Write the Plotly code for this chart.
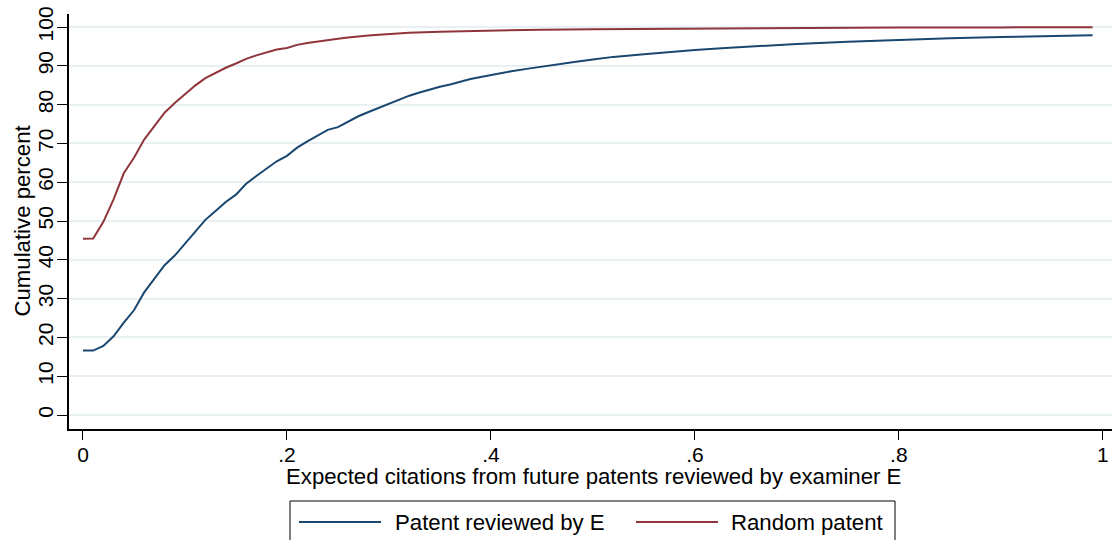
import plotly.graph_objects as go

# ---- data ----
x_examiner = [0.00, 0.01, 0.02, 0.03, 0.04, 0.05, 0.06, 0.07, 0.08, 0.09,
              0.10, 0.11, 0.12, 0.13, 0.14, 0.15, 0.16, 0.17, 0.18, 0.19,
              0.20, 0.21, 0.22, 0.23, 0.24, 0.25, 0.26, 0.27, 0.28, 0.29,
              0.30, 0.31, 0.32, 0.33, 0.34, 0.35, 0.36, 0.37, 0.38, 0.39,
              0.40, 0.42, 0.44, 0.46, 0.48, 0.50, 0.52, 0.55, 0.58, 0.60,
              0.63, 0.66, 0.70, 0.75, 0.80, 0.85, 0.90, 0.95, 0.99]
y_examiner = [16.6, 16.6, 17.8, 20.3, 23.8, 27.0, 31.6, 35.0, 38.6, 41.1,
              44.1, 47.3, 50.3, 52.6, 54.9, 56.8, 59.6, 61.6, 63.5, 65.4,
              66.8, 68.9, 70.5, 71.9, 73.5, 74.2, 75.7, 77.0, 78.1, 79.2,
              80.1, 81.2, 82.3, 83.1, 83.9, 84.6, 85.2, 85.9, 86.6, 87.1,
              87.6, 88.6, 89.4, 90.2, 90.9, 91.6, 92.3, 93.0, 93.7, 94.1,
              94.6, 95.1, 95.6, 96.2, 96.7, 97.1, 97.4, 97.7, 97.9]

x_random = [0.00, 0.01, 0.02, 0.03, 0.04, 0.05, 0.06, 0.07, 0.08, 0.09,
            0.10, 0.11, 0.12, 0.13, 0.14, 0.15, 0.16, 0.17, 0.18, 0.19,
            0.20, 0.21, 0.22, 0.23, 0.24, 0.25, 0.26, 0.27, 0.28, 0.29,
            0.30, 0.32, 0.35, 0.40, 0.45, 0.50, 0.60, 0.70, 0.80, 0.90, 0.99]
y_random = [45.4, 45.5, 49.8, 55.6, 62.3, 66.3, 71.0, 74.5, 77.9, 80.4,
            82.6, 84.9, 86.8, 88.2, 89.5, 90.6, 91.8, 92.7, 93.5, 94.2,
            94.6, 95.4, 95.9, 96.3, 96.7, 97.0, 97.3, 97.6, 97.8, 98.0,
            98.2, 98.5, 98.8, 99.1, 99.3, 99.4, 99.6, 99.75, 99.85, 99.9, 99.95]

x_tickvals = [0, 0.2, 0.4, 0.6, 0.8, 1.0]
x_ticktext = ["0", ".2", ".4", ".6", ".8", "1"]
y_tickvals = [0, 10, 20, 30, 40, 50, 60, 70, 80, 90, 100]
y_ticktext = ["0", "10", "20", "30", "40", "50", "60", "70", "80", "90", "100"]

series_names = ["Patent reviewed by E", "Random patent"]
x_title = "Expected citations from future patents reviewed by examiner E"
y_title = "Cumulative percent"

BLUE = "#1a476f"
RED = "#90353b"
FONT = "Liberation Sans, Arial, sans-serif"
FS_TICK = 21
FS_TEXT = 22.2

# ---- layout geometry (screen pixels; body margin removed below) ----
W, H = 1112, 540
PL, PR, PT, PB = 69, 1112, 14, 429          # plot area
L, T, R, B = PL, PT, W - PR, H - PB
plot_w = (PR - PL)
plot_h = (PB - PT)


def px(xs):
    return (xs - PL) / plot_w


def py(ys):
    return (PB - ys) / plot_h


fig = go.Figure()
fig.add_trace(go.Scatter(x=x_examiner, y=y_examiner, mode="lines",
                         name=series_names[0],
                         line=dict(color=BLUE, width=2)))
fig.add_trace(go.Scatter(x=x_random, y=y_random, mode="lines",
                         name=series_names[1],
                         line=dict(color=RED, width=2)))

fig.update_layout(
    width=W, height=H,
    margin=dict(l=L, r=R, t=T, b=B, pad=0),
    paper_bgcolor="white", plot_bgcolor="white",
    showlegend=False,
    font=dict(family=FONT, size=FS_TEXT, color="black"),
)

fig.update_xaxes(
    range=[-0.0137, 1.009], tickvals=x_tickvals, ticktext=x_ticktext,
    showgrid=False, zeroline=False,
    showline=True, linecolor="black", linewidth=1.5,
    ticks="outside", ticklen=9, tickwidth=1.2, tickcolor="black",
    tickfont=dict(size=FS_TICK), automargin=False,
    ticklabelstandoff=-3, ticklabeloverflow="allow",
)
fig.update_yaxes(
    range=[-3.6, 103.35], tickvals=y_tickvals, ticktext=y_ticktext,
    showgrid=True, gridcolor="#e9f0f3", gridwidth=1.5, zeroline=False,
    showline=True, linecolor="black", linewidth=1.5,
    ticks="outside", ticklen=10, tickwidth=1.2, tickcolor="black",
    tickangle=-90, tickfont=dict(size=FS_TICK), automargin=False,
    ticklabelstandoff=-4, ticklabeloverflow="allow",
)

# axis titles
fig.add_annotation(xref="paper", yref="paper", x=px(593.5), y=py(476),
                   text=x_title, showarrow=False,
                   xanchor="center", yanchor="middle", font=dict(size=FS_TEXT))
fig.add_annotation(xref="paper", yref="paper", x=px(22), y=py(221.5),
                   text=y_title, showarrow=False, textangle=-90,
                   xanchor="center", yanchor="middle", font=dict(size=FS_TEXT))

# ---- legend (drawn manually, Stata style) ----
fig.add_shape(type="rect", xref="paper", yref="paper",
              x0=px(290), x1=px(895), y0=py(501), y1=py(570),
              line=dict(color="black", width=1), fillcolor="white", layer="above")
leg_y = py(522)
fig.add_shape(type="line", xref="paper", yref="paper",
              x0=px(299), x1=px(381), y0=leg_y, y1=leg_y,
              line=dict(color=BLUE, width=2))
fig.add_shape(type="line", xref="paper", yref="paper",
              x0=px(636), x1=px(718), y0=leg_y, y1=leg_y,
              line=dict(color=RED, width=2))
fig.add_annotation(xref="paper", yref="paper", x=px(393), y=leg_y,
                   text=series_names[0], showarrow=False,
                   xanchor="left", yanchor="middle", font=dict(size=FS_TEXT))
fig.add_annotation(xref="paper", yref="paper", x=px(729), y=leg_y,
                   text=series_names[1], showarrow=False,
                   xanchor="left", yanchor="middle", font=dict(size=FS_TEXT))

fig.write_html(
    "out.html",
    config={"displayModeBar": False},
    post_script="document.body.style.margin='0';document.body.style.overflow='hidden';",
)
